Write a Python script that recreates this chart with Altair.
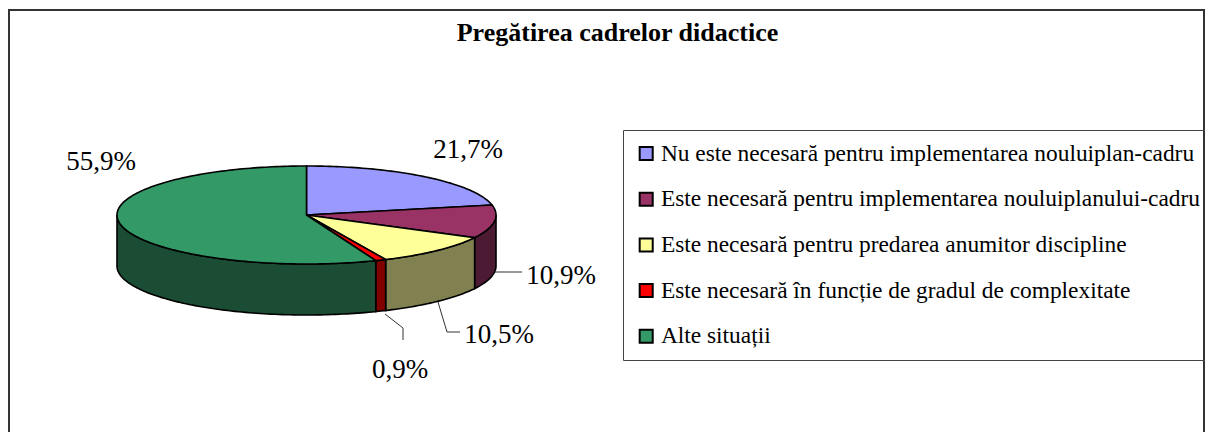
import math
import altair as alt

categories = [
    "Nu este necesară pentru implementarea nouluiplan-cadru",
    "Este necesară pentru implementarea nouluiplanului-cadru",
    "Este necesară pentru predarea anumitor discipline",
    "Este necesară în funcție de gradul de complexitate",
    "Alte situații",
]
values = [21.7, 10.9, 10.5, 0.9, 55.9]
labels = ["21,7%", "10,9%", "10,5%", "0,9%", "55,9%"]
top_colors = ["#9999FF", "#993366", "#FFFF99", "#FF0000", "#339966"]
side_colors = ["#4D4D80", "#4D1A33", "#808050", "#800000", "#1A4D33"]
title = "Pregătirea cadrelor didactice"

FONT = "Liberation Serif"
OX, OY = 9, 10          # page position of the chart's frame
CX, CY = 306.5 - OX, 215 - OY   # ellipse centre inside the frame
RX = 189.5
SQUASH = 0.2586
DEPTH = 0.269

total = sum(values)
edges = [0.0]
for v in values:
    edges.append(edges[-1] + v / total * 2 * math.pi)


def rim(a, b, drop=0.0):
    n = max(2, int(abs(b - a) / 0.02))
    return [
        [math.sin(a + (b - a) * i / n), -math.cos(a + (b - a) * i / n) * SQUASH + drop]
        for i in range(n + 1)
    ]


def feature(ring, **props):
    return {
        "type": "Feature",
        "properties": props,
        "geometry": {"type": "Polygon", "coordinates": [ring + [ring[0]]]},
    }


tops, sides = [], []
for i, cat in enumerate(categories):
    a, b = edges[i], edges[i + 1]
    tops.append(feature([[0.0, 0.0]] + rim(a, b), cat=cat))
    lo, hi = max(a, math.pi / 2), min(b, 3 * math.pi / 2)
    if lo < hi:
        sides.append(feature(rim(lo, hi) + rim(hi, lo, DEPTH), fill=side_colors[i]))

proj = dict(type="identity", scale=RX, translate=[CX, CY])

side_layer = (
    alt.Chart(alt.Data(values=sides))
    .mark_geoshape(stroke="black", strokeWidth=1.6)
    .encode(fill=alt.Fill("properties.fill:N", scale=None, legend=None))
    .project(**proj)
)

top_layer = (
    alt.Chart(alt.Data(values=tops))
    .mark_geoshape(stroke="black", strokeWidth=1.6)
    .encode(
        color=alt.Color(
            "properties.cat:N",
            scale=alt.Scale(domain=categories, range=top_colors),
            sort=categories,
            legend=alt.Legend(
                title=None,
                orient="none",
                legendX=623 - OX,
                legendY=130 - OY,
                direction="vertical",
                padding=11.5,
                strokeColor="#444444",
                symbolType="square",
                symbolSize=170,
                symbolStrokeColor="black",
                symbolStrokeWidth=2,
                symbolOpacity=1,
                labelFont=FONT,
                labelFontSize=23.4,
                labelColor="black",
                labelLimit=700,
                labelOffset=3,
                rowPadding=21.7,
                clipHeight=24,
            ),
        )
    )
    .project(**proj)
)

# Callouts: where each percentage sits and the leader that ties it to its slice
label_rows = [
    {"t": labels[0], "x": 468, "y": 150},
    {"t": labels[1], "x": 561, "y": 276},
    {"t": labels[2], "x": 499, "y": 335},
    {"t": labels[3], "x": 400, "y": 370},
    {"t": labels[4], "x": 101, "y": 162},
]
for r in label_rows:
    r["x"] -= OX
    r["y"] -= OY

leader_paths = [
    [[495, 272], [522, 272]],
    [[438, 302], [447, 332], [460, 332]],
    [[385, 314], [403, 328], [403, 340]],
]
leader_rows = []
for k, path in enumerate(leader_paths):
    for j, (x, y) in enumerate(path):
        leader_rows.append({"k": k, "j": j, "x": x - OX, "y": y - OY})

leaders = (
    alt.Chart(alt.Data(values=leader_rows))
    .mark_line(color="#333333", strokeWidth=1)
    .encode(
        x=alt.X("x:Q", scale=None, axis=None),
        y=alt.Y("y:Q", scale=None, axis=None),
        detail="k:N",
        order="j:Q",
    )
)

text_layer = (
    alt.Chart(alt.Data(values=label_rows))
    .mark_text(font=FONT, fontSize=27, color="black", align="center", baseline="middle")
    .encode(
        x=alt.X("x:Q", scale=None, axis=None),
        y=alt.Y("y:Q", scale=None, axis=None),
        text="t:N",
    )
)

chart = (
    alt.layer(side_layer, top_layer, leaders, text_layer)
    .resolve_scale(color="independent", fill="independent")
    .properties(
        width=1195,
        height=424,
        padding={"left": 1, "top": 2, "right": 1, "bottom": 0},
        autosize=alt.AutoSizeParams(type="none"),
        background="white",
        title=alt.TitleParams(
            title,
            font=FONT,
            fontSize=26,
            fontWeight="bold",
            color="black",
            anchor="middle",
            align="center",
            baseline="middle",
            offset=-49,
            dx=11,
        ),
    )
    .configure_view(stroke="#333333", strokeWidth=2)
)

chart.save("out.html", embed_options={"renderer": "svg", "actions": False})
